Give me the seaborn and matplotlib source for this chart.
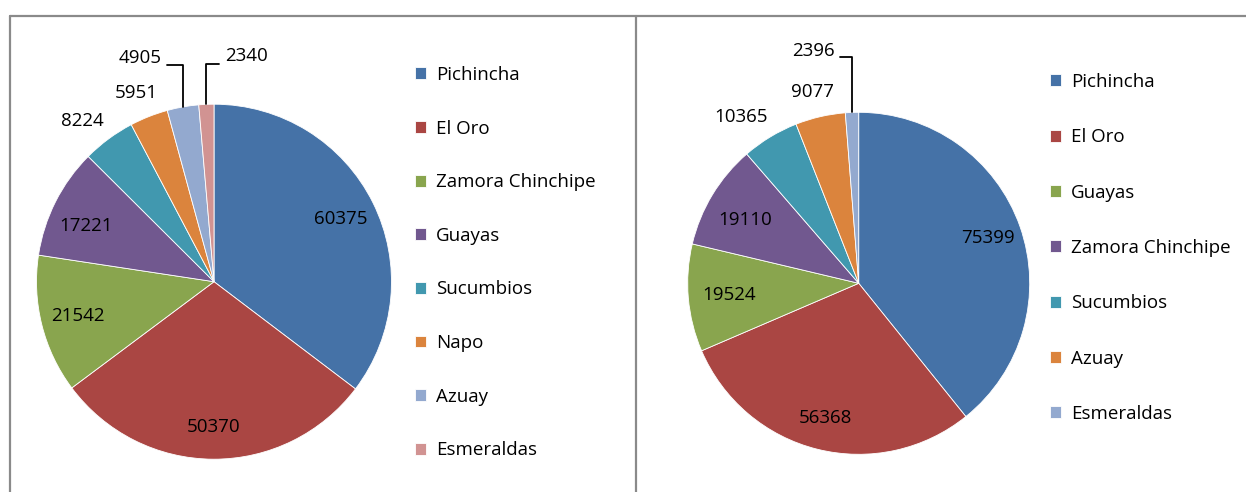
import matplotlib
matplotlib.use("Agg")
import matplotlib.pyplot as plt
from matplotlib.lines import Line2D
import seaborn as sns
import numpy as np

# datos de los dos gráficos
provincias_izq = ["Pichincha", "El Oro", "Zamora Chinchipe", "Guayas",
                  "Sucumbios", "Napo", "Azuay", "Esmeraldas"]
valores_izq = [60375, 50370, 21542, 17221, 8224, 5951, 4905, 2340]

provincias_der = ["Pichincha", "El Oro", "Guayas", "Zamora Chinchipe",
                  "Sucumbios", "Azuay", "Esmeraldas"]
valores_der = [75399, 56368, 19524, 19110, 10365, 9077, 2396]

colores = sns.color_palette(["#4572A7", "#AA4643", "#89A54E", "#71588F",
                             "#4198AF", "#DB843D", "#93A9CF", "#D19392"])

sns.set_theme(style="white")
plt.rcParams["font.family"] = ["Open Sans", "DejaVu Sans"]
plt.rcParams["text.color"] = "black"
FS = 13.5

W, H = 1246, 492
fig = plt.figure(figsize=(W / 100, H / 100), dpi=100)


def pie_axes(cx, cy, r):
    # ejes cuadrados centrados en (cx, cy) en pixeles, y hacia abajo
    return fig.add_axes([(cx - r) / W, (H - cy - r) / H, 2 * r / W, 2 * r / H])


def dibujar(ax, valores, nombres, dist, guias, legend_xy, spacing):
    wedges, _ = ax.pie(valores, colors=colores[:len(valores)], startangle=90,
                       counterclock=False,
                       wedgeprops=dict(edgecolor="white", linewidth=0.6))
    ax.set_xlim(-1, 1)
    ax.set_ylim(-1, 1)
    ax.set_aspect("equal")
    ax.axis("off")
    for w, v, d in zip(wedges, valores, dist):
        ang = np.deg2rad((w.theta1 + w.theta2) / 2)
        if d is None:
            off, rel = guias[v]
            ax.annotate(str(v), xy=(np.cos(ang), np.sin(ang)),
                        xytext=off, textcoords="offset pixels",
                        ha="center", va="center", fontsize=FS, color="black",
                        annotation_clip=False,
                        arrowprops=dict(arrowstyle="-", color="black", lw=1.3,
                                        connectionstyle="angle,angleA=0,angleB=90,rad=0",
                                        relpos=rel, patchA=None, shrinkA=4, shrinkB=0))
        else:
            r, extra = d
            a = ang + np.deg2rad(extra)
            ax.text(r * np.cos(a), r * np.sin(a), str(v), ha="center",
                    va="center", fontsize=FS, color="black", clip_on=False)
    ax.legend(wedges, nombres, loc="upper left",
              bbox_to_anchor=(legend_xy[0] / W, 1 - legend_xy[1] / H),
              bbox_transform=fig.transFigure, frameon=False, fontsize=FS,
              labelcolor="black",
              handlelength=0.59, handleheight=0.59, handletextpad=0.53,
              labelspacing=spacing, borderpad=0, borderaxespad=0)


ax1 = pie_axes(214, 281.7, 177.5)
dibujar(ax1, valores_izq, provincias_izq,
        [(0.8, 0), (0.82, 0), (0.79, 0), (0.785, 3), (1.17, 3), (1.15, 1),
         None, None],
        {4905: ((-43, 49), (1, 0.1)), 2340: ((40, 48), (0, 0.1))},
        (415, 66), 1.9)

ax2 = pie_axes(858.7, 283.3, 171)
dibujar(ax2, valores_der, provincias_der,
        [(0.8, 0), (0.81, 0), (0.76, 0), (0.76, 2), (1.19, 4), (1.15, 0.5),
         None],
        {2396: ((-39, 61), (1, 0.2))}, (1050, 73), 1.99)

# marcos grises de los dos gráficos
gris = "#8a8a8a"
for xs, ys in [((10, W), (16, 16)), ((10, 10), (16, H)), ((636, 636), (16, H))]:
    fig.add_artist(Line2D([x / W for x in xs], [1 - y / H for y in ys],
                          transform=fig.transFigure, color=gris, lw=1.6))

fig.savefig("out.png", dpi=100, facecolor="white")
